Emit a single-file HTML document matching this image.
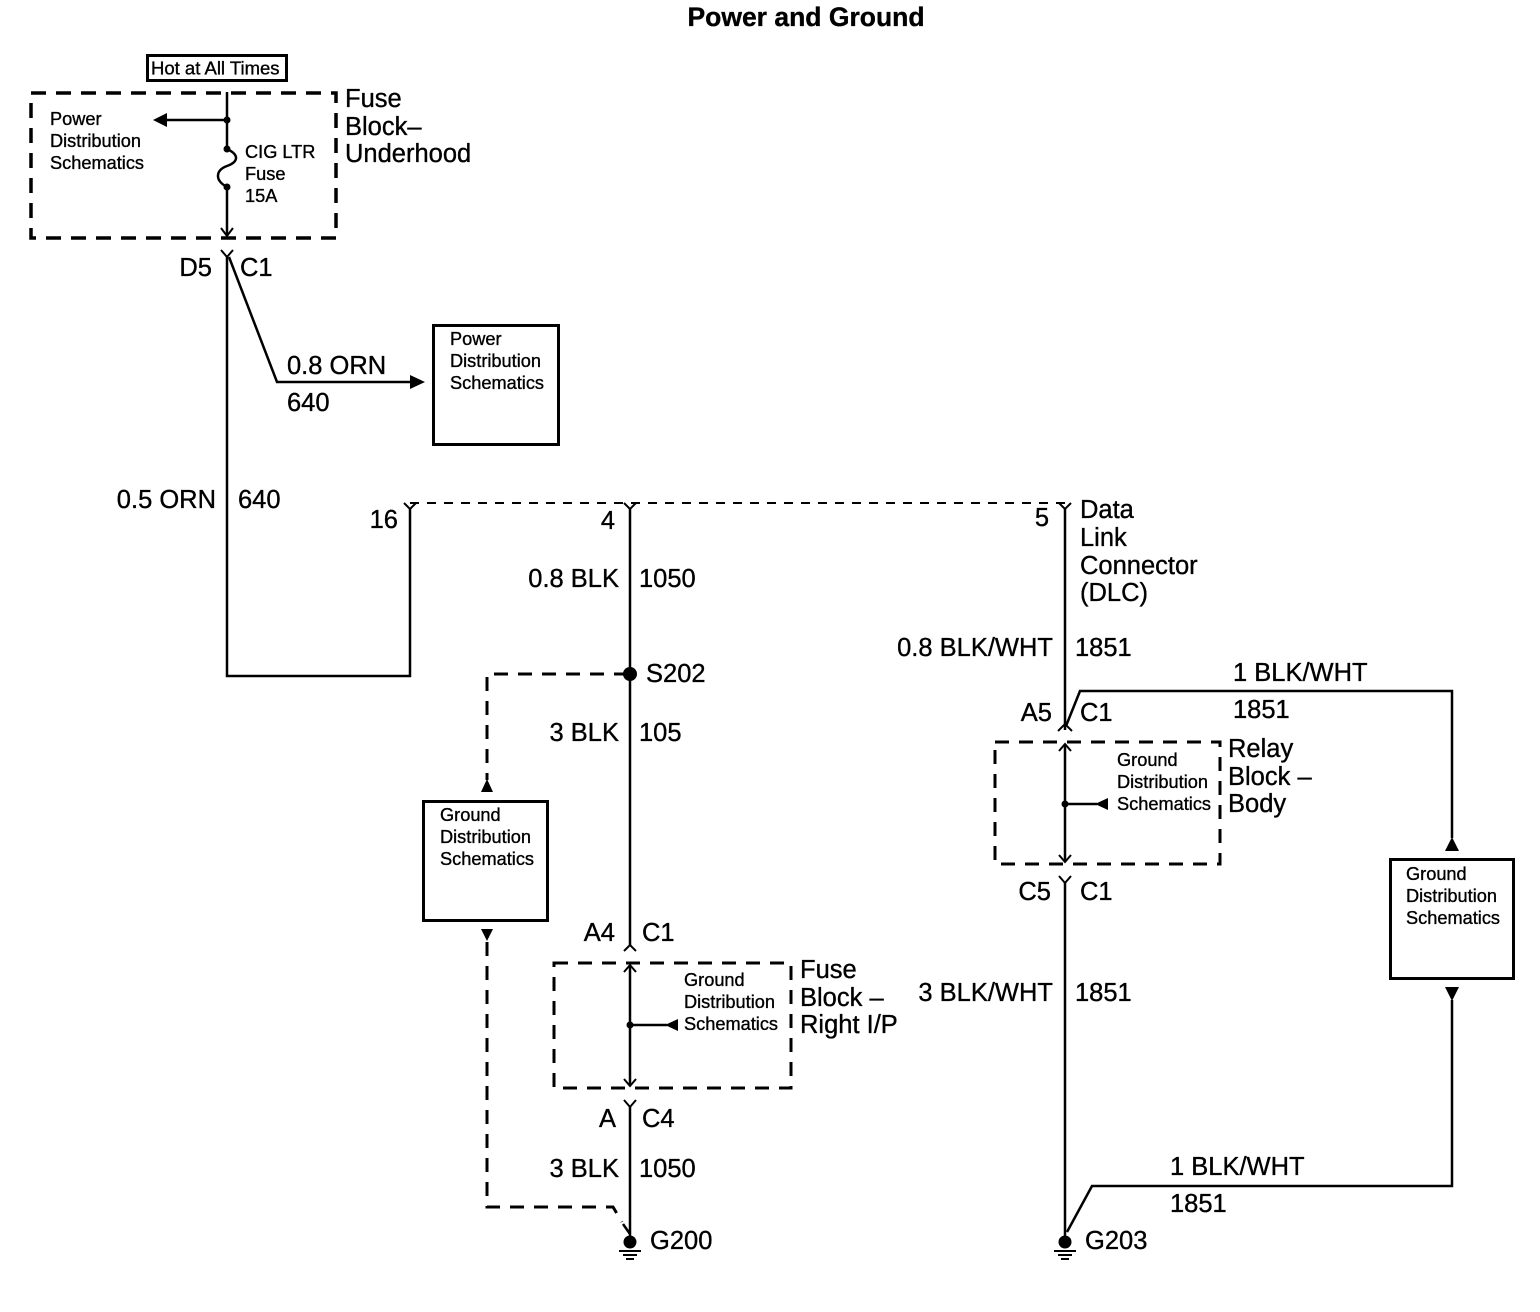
<!DOCTYPE html>
<html><head><meta charset="utf-8"><style>
html,body{margin:0;padding:0;background:#fff}
svg{display:block}
text{font-family:"Liberation Sans",Arial,sans-serif;fill:#000;dominant-baseline:central;stroke:#000;stroke-width:0.35}
.L{font-size:25.5px}
.S{font-size:18.2px}
</style></head><body>
<svg width="1540" height="1312" viewBox="0 0 1540 1312" xmlns="http://www.w3.org/2000/svg">
<text x="806" y="17" text-anchor="middle" style="font-size:26.5px;font-weight:bold">Power and Ground</text>

<g stroke="#000" fill="none">
<rect x="147.5" y="55.5" width="139" height="25" stroke-width="3"/>
<rect x="31" y="93" width="305" height="145" stroke-width="3.5" stroke-dasharray="15,10"/>
<path d="M227 92 V149" stroke-width="2.5"/>
<path d="M227 120 H162" stroke-width="2.5"/>
<path d="M227 149 C240 155,238 162,227 166 C216 170,214 180,227 187" stroke-width="2.5"/>
<path d="M227 187 V236" stroke-width="2.5"/>
<path d="M221 228 L227 236 L233 228" stroke-width="2"/>
<path d="M221 250 L227 257 L233 250" stroke-width="2"/>
<path d="M227 257 V676 H410 V508" stroke-width="2.5"/>
<path d="M229 257 L277 382 H412" stroke-width="2.5"/>
<rect x="433.5" y="325.5" width="125" height="119" stroke-width="3"/>
<path d="M410 503 H1065" stroke-width="2" stroke-dasharray="9,8"/>
<path d="M404 503 L410 509 L416 503" stroke-width="2"/>
<path d="M624 503 L630 509 L636 503" stroke-width="2"/>
<path d="M1059 503 L1065 509 L1071 503" stroke-width="2"/>
<path d="M630 508 V946" stroke-width="2.5"/>
<path d="M624 951 L630 945 L636 951" stroke-width="2"/>
<rect x="554" y="963" width="237" height="125" stroke-width="3" stroke-dasharray="14,10"/>
<path d="M630 965 V1086" stroke-width="2.5"/>
<path d="M624 972 L630 965 L636 972 M624 1079 L630 1086 L636 1079" stroke-width="2"/>
<path d="M630 1025 H667" stroke-width="2.5"/>
<path d="M624 1100 L630 1107 L636 1100" stroke-width="2"/>
<path d="M630 1107 V1236" stroke-width="2.5"/>
<path d="M628 674 H487 V780" stroke-width="3" stroke-dasharray="14,10"/>
<rect x="423.5" y="801.5" width="124" height="119" stroke-width="3"/>
<path d="M487 942 V1207 H613 L622 1222" stroke-width="3" stroke-dasharray="14,10"/>
<path d="M623 1224 L630 1234" stroke-width="2.5"/>
<path d="M1065 508 V730" stroke-width="2.5"/>
<path d="M1058 731 L1065 724 L1072 731" stroke-width="2"/>
<path d="M1066 726 L1080 691 H1452 V838" stroke-width="2.5"/>
<rect x="995" y="742" width="225" height="122" stroke-width="3" stroke-dasharray="14,10"/>
<path d="M1065 744 V862" stroke-width="2.5"/>
<path d="M1059 751 L1065 744 L1071 751 M1059 855 L1065 862 L1071 855" stroke-width="2"/>
<path d="M1065 804 H1097" stroke-width="2.5"/>
<path d="M1059 876 L1065 883 L1071 876" stroke-width="2"/>
<path d="M1065 883 V1236" stroke-width="2.5"/>
<path d="M1067 1232 L1092 1186 H1452 V1000" stroke-width="2.5"/>
<rect x="1390.5" y="859.5" width="123" height="119" stroke-width="3"/>
<path d="M619 1251 H641 M623 1255 H637 M626 1259 H634" stroke-width="2"/>
<path d="M1054 1251 H1076 M1058 1255 H1072 M1061 1259 H1069" stroke-width="2"/>
</g>
<g fill="#000" stroke="none">
<path d="M153 120 L167 113 L167 127 Z"/>
<path d="M425 382 L410 375 L410 389 Z"/>
<path d="M487 779 L481 792 L493 792 Z"/>
<path d="M487 941 L481 929 L493 929 Z"/>
<path d="M665 1025 L678 1019 L678 1031 Z"/>
<path d="M1095 804 L1108 798 L1108 810 Z"/>
<path d="M1452 837 L1445 851 L1459 851 Z"/>
<path d="M1452 1001 L1445 987 L1459 987 Z"/>
<circle cx="227" cy="120" r="3.5"/><circle cx="227" cy="149" r="3.5"/><circle cx="227" cy="187" r="3.5"/>
<circle cx="630" cy="1025" r="3.5"/><circle cx="1065" cy="804" r="3.5"/>
<circle cx="630" cy="674" r="7"/>
<circle cx="630" cy="1242" r="6.5"/><circle cx="1065" cy="1242" r="6.5"/>
</g>

<text class="S" x="151" y="68" style="font-size:18.5px">Hot at All Times</text>
<text class="S" x="50" y="119">Power</text><text class="S" x="50" y="141">Distribution</text><text class="S" x="50" y="163">Schematics</text>
<text class="S" x="245" y="152">CIG LTR</text><text class="S" x="245" y="174">Fuse</text><text class="S" x="245" y="196">15A</text>
<text class="L" x="345" y="99">Fuse</text><text class="L" x="345" y="127">Block–</text><text class="L" x="345" y="154">Underhood</text>
<text class="L" x="212" y="268" text-anchor="end">D5</text><text class="L" x="240" y="268">C1</text>
<text class="L" x="287" y="366">0.8 ORN</text><text class="L" x="287" y="403">640</text>
<text class="S" x="450" y="339">Power</text><text class="S" x="450" y="361">Distribution</text><text class="S" x="450" y="383">Schematics</text>
<text class="L" x="216" y="500" text-anchor="end">0.5 ORN</text><text class="L" x="238" y="500">640</text>
<text class="L" x="398" y="520" text-anchor="end">16</text>
<text class="L" x="615" y="521" text-anchor="end">4</text>
<text class="L" x="1049" y="518" text-anchor="end">5</text>
<text class="L" x="1080" y="510">Data</text><text class="L" x="1080" y="538">Link</text><text class="L" x="1080" y="566">Connector</text><text class="L" x="1080" y="593">(DLC)</text>
<text class="L" x="619" y="579" text-anchor="end">0.8 BLK</text><text class="L" x="639" y="579">1050</text>
<text class="L" x="646" y="674">S202</text>
<text class="L" x="619" y="733" text-anchor="end">3 BLK</text><text class="L" x="639" y="733">105</text>
<text class="S" x="440" y="815">Ground</text><text class="S" x="440" y="837">Distribution</text><text class="S" x="440" y="859">Schematics</text>
<text class="L" x="615" y="933" text-anchor="end">A4</text><text class="L" x="642" y="933">C1</text>
<text class="S" x="684" y="980">Ground</text><text class="S" x="684" y="1002">Distribution</text><text class="S" x="684" y="1024">Schematics</text>
<text class="L" x="800" y="970">Fuse</text><text class="L" x="800" y="998">Block –</text><text class="L" x="800" y="1025">Right I/P</text>
<text class="L" x="616" y="1119" text-anchor="end">A</text><text class="L" x="642" y="1119">C4</text>
<text class="L" x="619" y="1169" text-anchor="end">3 BLK</text><text class="L" x="639" y="1169">1050</text>
<text class="L" x="650" y="1241">G200</text>
<text class="L" x="1053" y="648" text-anchor="end">0.8 BLK/WHT</text><text class="L" x="1075" y="648">1851</text>
<text class="L" x="1233" y="673">1 BLK/WHT</text><text class="L" x="1233" y="710">1851</text>
<text class="L" x="1052" y="713" text-anchor="end">A5</text><text class="L" x="1080" y="713">C1</text>
<text class="S" x="1117" y="760">Ground</text><text class="S" x="1117" y="782">Distribution</text><text class="S" x="1117" y="804">Schematics</text>
<text class="L" x="1228" y="749">Relay</text><text class="L" x="1228" y="777">Block –</text><text class="L" x="1228" y="804">Body</text>
<text class="L" x="1051" y="892" text-anchor="end">C5</text><text class="L" x="1080" y="892">C1</text>
<text class="S" x="1406" y="874">Ground</text><text class="S" x="1406" y="896">Distribution</text><text class="S" x="1406" y="918">Schematics</text>
<text class="L" x="1053" y="993" text-anchor="end">3 BLK/WHT</text><text class="L" x="1075" y="993">1851</text>
<text class="L" x="1170" y="1167">1 BLK/WHT</text><text class="L" x="1170" y="1204">1851</text>
<text class="L" x="1085" y="1241">G203</text>
</svg>
</body></html>
